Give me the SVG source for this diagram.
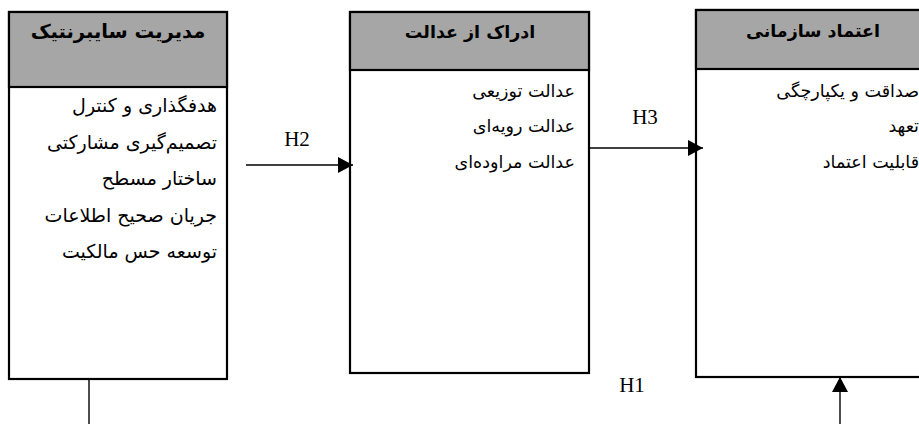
<svg xmlns="http://www.w3.org/2000/svg" width="919" height="424" viewBox="0 0 919 424">
<style>
.box{fill:#fff;stroke:#000;stroke-width:2.2}
.hdr{fill:#a6a6a6;stroke:#000;stroke-width:2.2}
.ht{font-family:"DejaVu Sans",sans-serif;font-weight:bold;font-size:17.5px;text-anchor:middle;fill:#000}
.it{font-family:"DejaVu Sans",sans-serif;font-size:17.5px;text-anchor:end;fill:#000}
.b1 .ht{font-size:19.5px}
.b1 .it{font-size:19px}
.lab{font-family:"Liberation Serif",serif;font-size:21px;text-anchor:middle;fill:#000}
.con{stroke:#000;stroke-width:1.4;fill:none}
</style>
<defs>
<marker id="ah" markerUnits="userSpaceOnUse" markerWidth="16" markerHeight="18" refX="15" refY="8" orient="auto">
<path d="M0,0 L15,8 L0,16 Z" fill="#000"/>
</marker>
</defs>
<g id="node-cyber" class="b1">
<rect class="box" x="9" y="12" width="218" height="367"/>
<rect class="hdr" x="9" y="12" width="218" height="75"/>
<text class="ht" x="118" y="38">مدیریت سایبرنتیک</text>
<text class="it" x="217" y="112">هدفگذاری و کنترل</text>
<text class="it" x="217" y="149">تصمیم‌گیری مشارکتی</text>
<text class="it" x="217" y="185">ساختار مسطح</text>
<text class="it" x="217" y="222">جریان صحیح اطلاعات</text>
<text class="it" x="217" y="258">توسعه حس مالکیت</text>
</g>
<g id="node-justice">
<rect class="box" x="350" y="12" width="239" height="361"/>
<rect class="hdr" x="350" y="12" width="239" height="58"/>
<text class="ht" x="470" y="38">ادراک از عدالت</text>
<text class="it" x="575" y="97">عدالت توزیعی</text>
<text class="it" x="575" y="132">عدالت رویه‌ای</text>
<text class="it" x="575" y="168">عدالت مراوده‌ای</text>
</g>
<g id="node-trust">
<rect class="box" x="696" y="10" width="240" height="367"/>
<rect class="hdr" x="696" y="10" width="240" height="59"/>
<text class="ht" x="813" y="37">اعتماد سازمانی</text>
<text class="it" x="919" y="97">صداقت و یکپارچگی</text>
<text class="it" x="919" y="132">تعهد</text>
<text class="it" x="919" y="168">قابلیت اعتماد</text>
</g>
<g id="connectors">
<line class="con" x1="246" y1="165" x2="353" y2="165" marker-end="url(#ah)"/>
<line class="con" x1="589" y1="148" x2="703" y2="148" marker-end="url(#ah)"/>
<line class="con" x1="89" y1="379" x2="89" y2="424"/>
<line class="con" x1="840" y1="424" x2="840" y2="377" marker-end="url(#ah)"/>
<text class="lab" x="297" y="146">H2</text>
<text class="lab" x="645" y="124">H3</text>
<text class="lab" x="632" y="392">H1</text>
</g>
</svg>
